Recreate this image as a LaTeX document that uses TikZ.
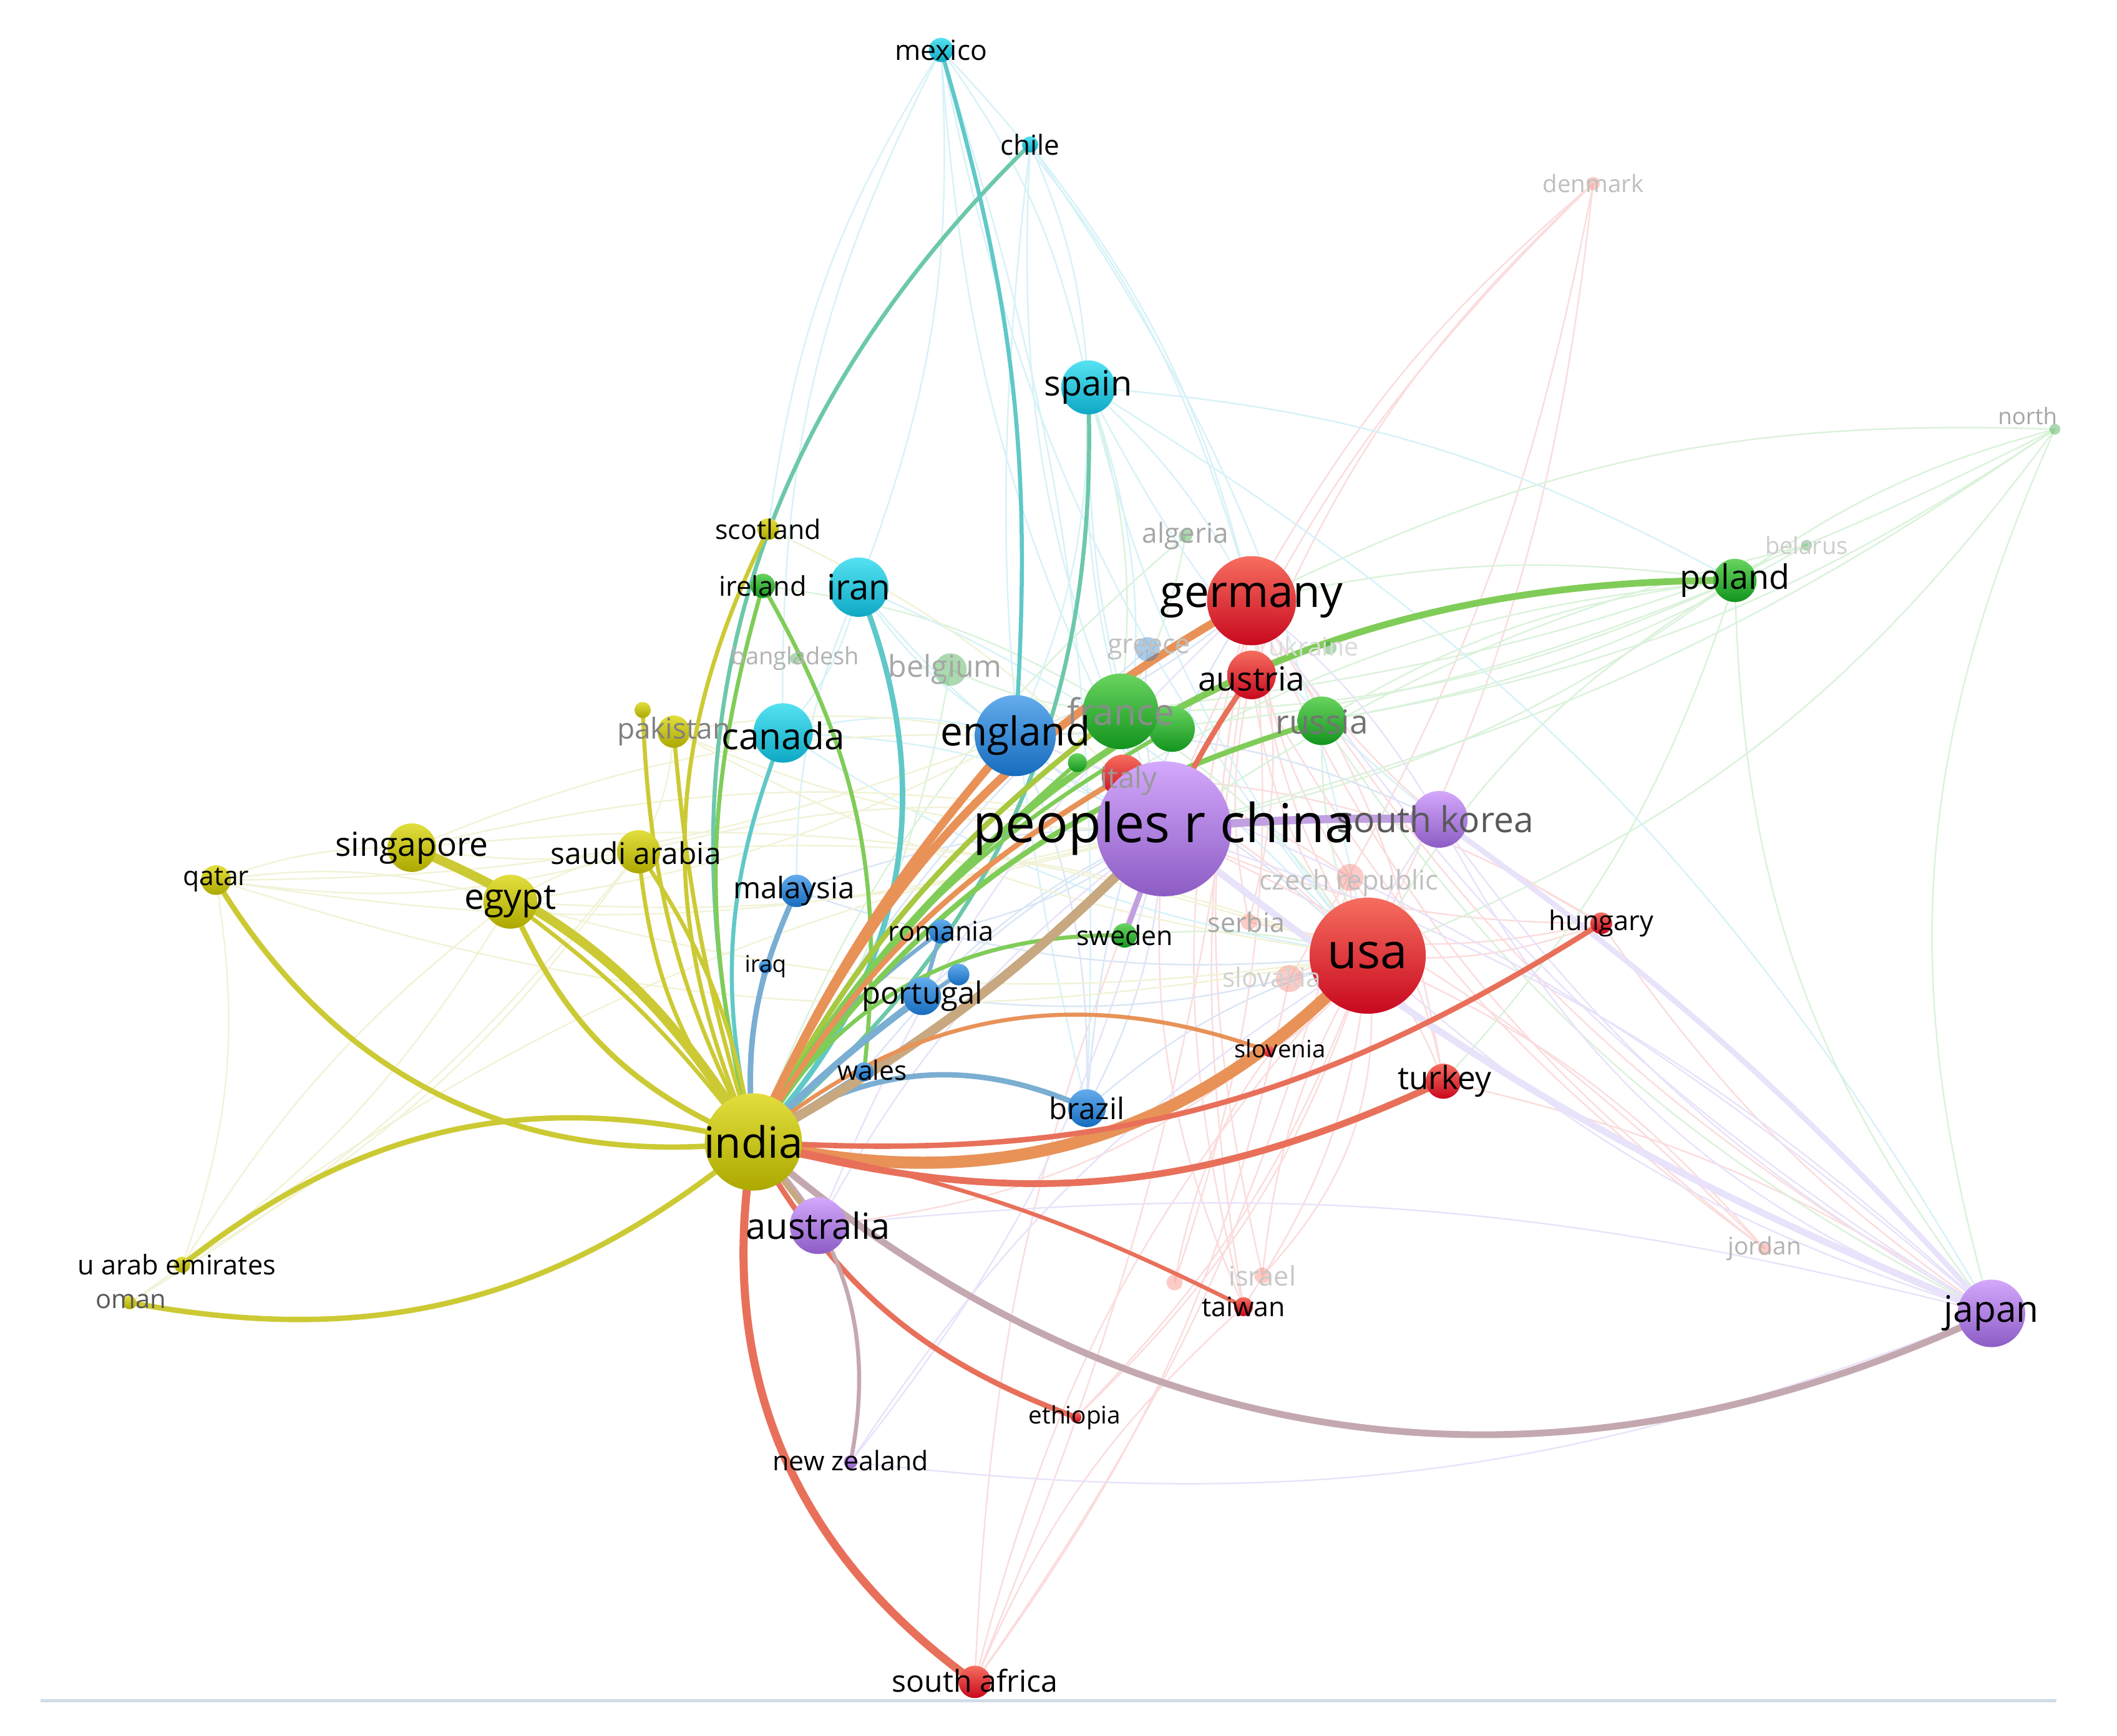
\documentclass[tikz,border=0pt]{standalone}
\usepackage{fontspec}
\setmainfont{Open Sans}
\definecolor{redT}{RGB}{246,110,95}\definecolor{redB}{RGB}{200,8,30}
\definecolor{grnT}{RGB}{105,212,95}\definecolor{grnB}{RGB}{18,148,30}
\definecolor{bluT}{RGB}{100,172,236}\definecolor{bluB}{RGB}{22,108,190}
\definecolor{cyaT}{RGB}{85,226,242}\definecolor{cyaB}{RGB}{14,168,196}
\definecolor{yelT}{RGB}{226,222,62}\definecolor{yelB}{RGB}{172,168,0}
\definecolor{purT}{RGB}{212,168,252}\definecolor{purB}{RGB}{140,92,196}
\definecolor{eY}{RGB}{204,202,52}
\definecolor{eO}{RGB}{232,146,88}
\definecolor{eG}{RGB}{128,204,88}
\definecolor{eT}{RGB}{96,200,200}
\definecolor{eTG}{RGB}{108,200,170}
\definecolor{eB}{RGB}{122,174,210}
\definecolor{eTan}{RGB}{200,168,128}
\definecolor{eR}{RGB}{232,112,90}
\definecolor{eP}{RGB}{192,160,224}
\definecolor{eTP}{RGB}{196,168,176}
\definecolor{eYG}{RGB}{168,200,64}
\definecolor{fR}{RGB}{251,220,220}
\definecolor{fG}{RGB}{218,242,218}
\definecolor{fT}{RGB}{214,242,248}
\definecolor{fB}{RGB}{218,230,246}
\definecolor{fY}{RGB}{242,242,214}
\definecolor{fP}{RGB}{232,226,250}
\definecolor{baseln}{RGB}{208,220,232}
\tikzset{
  nd/.style 2 args={circle, inner sep=0pt, draw=none, minimum size=#1*0.2mm, top color=#2T, bottom color=#2B},
  fd/.style 2 args={circle, inner sep=0pt, draw=none, minimum size=#1*0.2mm, fill=#2, fill opacity=0.35},
  lb/.style={font=\fontsize{#1}{#1}\selectfont, inner sep=0pt, text=black},
  se/.style 2 args={draw=#1, line width=#2*0.569pt, line cap=round},
  fe/.style={draw=#1, line width=1.1*0.569pt},
}
\begin{document}
\begin{tikzpicture}[x=0.2mm,y=0.2mm]
\useasboundingbox (0,0) rectangle (1568,-1286);
\fill[white] (0,0) rectangle (1568,-1286);
% positions
\coordinate (china) at (862,-614);
\coordinate (usa) at (1013,-708);
\coordinate (germany) at (927,-445);
\coordinate (india) at (558,-846);
\coordinate (england) at (752,-545);
\coordinate (france) at (830,-527);
\coordinate (gx) at (868,-540);
\coordinate (austria) at (927,-500);
\coordinate (russia) at (979,-534);
\coordinate (italy) at (832,-575);
\coordinate (gsmall) at (798,-565);
\coordinate (skorea) at (1066,-607);
\coordinate (japan) at (1475,-973);
\coordinate (australia) at (606,-908);
\coordinate (poland) at (1285,-430);
\coordinate (spain) at (806,-287);
\coordinate (iran) at (636,-435);
\coordinate (canada) at (580,-543);
\coordinate (mexico) at (697,-37);
\coordinate (chile) at (763,-107);
\coordinate (scotland) at (569,-392);
\coordinate (ireland) at (565,-434);
\coordinate (pakistan) at (499,-542);
\coordinate (ysmall) at (476,-526);
\coordinate (singapore) at (305,-628);
\coordinate (egypt) at (378,-668);
\coordinate (saudi) at (473,-631);
\coordinate (qatar) at (160,-652);
\coordinate (uae) at (135,-937);
\coordinate (oman) at (96,-965);
\coordinate (malaysia) at (590,-660);
\coordinate (romania) at (697,-690);
\coordinate (iraq) at (567,-716);
\coordinate (portugal) at (683,-738);
\coordinate (bsmall) at (710,-722);
\coordinate (wales) at (640,-794);
\coordinate (brazil) at (805,-821);
\coordinate (sweden) at (833,-693);
\coordinate (slovenia) at (940,-779);
\coordinate (hungary) at (1186,-684);
\coordinate (turkey) at (1069,-801);
\coordinate (taiwan) at (921,-968);
\coordinate (ethiopia) at (797,-1050);
\coordinate (nz) at (630,-1083);
\coordinate (safrica) at (722,-1246);
\coordinate (czech) at (1000,-650);
\coordinate (serbia) at (925,-683);
\coordinate (slovakia) at (955,-725);
\coordinate (israel) at (935,-945);
\coordinate (psmall) at (870,-950);
\coordinate (denmark) at (1180,-136);
\coordinate (jordan) at (1307,-925);
\coordinate (belarus) at (1338,-404);
\coordinate (north) at (1522,-318);
\coordinate (algeria) at (878,-397);
\coordinate (greece) at (850,-481);
\coordinate (belgium) at (704,-496);
\coordinate (bangladesh) at (589,-488);
\coordinate (ukraine) at (985,-480);
\coordinate (bl) at (30,-1260);
\coordinate (br) at (1523,-1260);
% faint background links
\begin{scope}
\clip (0,0) rectangle (1523,-1286);
\foreach \a/\b/\k in {usa/germany/12,usa/italy/-10,usa/austria/15,usa/hungary/-12,usa/turkey/10,usa/taiwan/14,usa/israel/-12,usa/jordan/12,usa/safrica/-14,usa/ethiopia/12,usa/denmark/-10,usa/czech/12,usa/slovakia/-15,germany/denmark/10,germany/hungary/-14,germany/turkey/12,germany/czech/-12,germany/serbia/14,germany/taiwan/-10,austria/denmark/12,austria/jordan/-12,czech/safrica/10,slovakia/safrica/12,taiwan/safrica/-12,ethiopia/usa/-14,turkey/japan/10,hungary/japan/-10,germany/japan/-14,denmark/china/-12,hungary/china/12,denmark/slovakia/10,jordan/china/-10,israel/germany/12,psmall/germany/-12,taiwan/china/14,slovenia/usa/-12,israel/usa/-25,psmall/usa/20,jordan/germany/14,turkey/czech/-14,hungary/serbia/12,australia/usa/-20,safrica/china/10,safrica/germany/-8,taiwan/germany/15,italy/czech/10,austria/serbia/-12,italy/hungary/14}
  \draw[fe=fR] (\a) to[bend left=\k] (\b);
\foreach \a/\b/\k in {poland/north/10,poland/belarus/8,poland/germany/-10,poland/france/12,poland/russia/-12,poland/china/12,north/france/10,north/germany/-14,north/russia/12,north/japan/-20,belarus/russia/10,russia/japan/-14,france/spain/-12,algeria/france/10,belgium/france/-10,ireland/france/12,north/usa/16,poland/usa/-14,poland/turkey/12,poland/japan/-18,belgium/india/12,algeria/india/-14,france/usa/12,russia/usa/-12,sweden/usa/10,belarus/china/-10,poland/england/10,poland/italy/-12,north/china/10}
  \draw[fe=fG] (\a) to[bend left=\k] (\b);
\foreach \a/\b/\k in {mexico/spain/12,mexico/canada/-14,mexico/iran/12,mexico/china/-12,mexico/germany/14,mexico/usa/-14,chile/spain/10,chile/china/-14,chile/usa/12,spain/china/-10,spain/germany/10,spain/usa/-12,spain/poland/12,spain/france/-8,spain/england/12,iran/china/-12,iran/canada/14,iran/england/-12,canada/china/12,canada/usa/-12,canada/england/14,mexico/scotland/-12,chile/germany/12,spain/skorea/-12,spain/japan/14,iran/usa/12,mexico/brazil/10,chile/brazil/-10,spain/italy/14,iran/malaysia/-12}
  \draw[fe=fT] (\a) to[bend left=\k] (\b);
\foreach \a/\b/\k in {england/brazil/12,brazil/china/-12,portugal/china/10,england/china/-10,england/usa/12,greece/india/-10,brazil/usa/12,romania/china/-12,malaysia/china/10,england/germany/-10,wales/china/12,portugal/usa/-12,brazil/germany/14,greece/china/-10,england/skorea/14,malaysia/usa/-12}
  \draw[fe=fB] (\a) to[bend left=\k] (\b);
\foreach \a/\b/\k in {qatar/singapore/10,qatar/china/-12,qatar/egypt/12,qatar/saudi/-12,singapore/china/12,egypt/china/-10,saudi/china/12,pakistan/china/-12,uae/egypt/10,uae/saudi/-12,uae/china/12,oman/saudi/-10,singapore/england/12,egypt/usa/-12,saudi/usa/12,egypt/england/-10,pakistan/saudi/12,qatar/england/-10,qatar/usa/-14,singapore/usa/12,pakistan/england/10,singapore/saudi/-8,egypt/saudi/10,oman/egypt/-12,uae/qatar/-14,scotland/china/12,pakistan/usa/-10}
  \draw[fe=fY] (\a) to[bend left=\k] (\b);
\foreach \a/\b/\k in {japan/china/-12,japan/skorea/12,japan/australia/-10,japan/usa/12,skorea/usa/-12,australia/china/12,nz/china/-12,nz/usa/12,japan/england/-10,japan/germany/12,skorea/germany/-10,australia/germany/12,nz/japan/-14,skorea/japan/-20}
  \draw[fe=fP] (\a) to[bend left=\k] (\b);
\draw[se={fP}{5}] (china) to[bend right=8] (japan);
\draw[se={fP}{4}] (skorea) to[bend left=6] (japan);
\end{scope}
% strong links
\draw[se={eTG}{3}] (india) to[bend left=30] (chile);
\draw[se={eT}{3}] (mexico) to[bend left=10] (england);
\draw[se={eTG}{3}] (spain) to[bend left=26] (india);
\draw[se={eT}{4}] (iran) to[bend left=33] (india);
\draw[se={eT}{3}] (canada) to[bend right=17] (india);
\draw[se={eG}{3}] (ireland) to[bend right=15] (india);
\draw[se={eG}{3}] (ireland) to[bend left=18] (wales);
\draw[se={eY}{3}] (scotland) to[bend right=25] (india);
\draw[se={eY}{3}] (ysmall) to[bend right=12] (india);
\draw[se={eY}{3}] (pakistan) to[bend right=6] (india);
\draw[se={eY}{3}] (saudi) to[bend right=16] (india);
\draw[se={eY}{3}] (saudi) to[bend left=12] (india);
\draw[se={eY}{7}] (singapore) to[bend left=18] (india);
\draw[se={eY}{4}] (egypt) to[bend right=22] (india);
\draw[se={eY}{3}] (egypt) to[bend left=8] (india);
\draw[se={eY}{4}] (qatar) to[bend right=33] (india);
\draw[se={eY}{4}] (uae) to[bend left=26] (india);
\draw[se={eY}{4}] (oman) to[bend right=25] (india);
\draw[se={eB}{4}] (malaysia) to[bend right=15] (india);
\draw[se={eB}{3}] (iraq) to[bend right=10] (india);
\draw[se={eB}{3}] (romania) to (portugal);
\draw[se={eB}{3}] (romania) to[bend right=12] (india);
\draw[se={eB}{5}] (portugal) to[bend right=4] (india);
\draw[se={eB}{3}] (bsmall) to[bend right=6] (india);
\draw[se={eB}{3}] (wales) to (india);
\draw[se={eB}{4}] (india) to[bend left=30] (brazil);
\draw[se={eYG}{4}] (india) to[bend left=12] (france);
\draw[se={eG}{3}] (india) to[bend left=15] (gx);
\draw[se={eG}{3}] (india) to[bend left=8] (gsmall);
\draw[se={eG}{4}] (india) to[bend left=20] (russia);
\draw[se={eG}{3}] (india) to[bend left=30] (sweden);
\draw[se={eG}{5}] (india) to[bend left=30] (poland);
\draw[se={eO}{4}] (india) to[bend left=14] (italy);
\draw[se={eO}{6}] (india) to[bend left=8] (england);
\draw[se={eO}{6}] (india) to[bend left=18] (germany);
\draw[se={eTan}{7}] (india) to[bend right=8] (china);
\draw[se={eO}{9}] (india) to[bend right=30] (usa);
\draw[se={eR}{5}] (india) to[bend right=20] (turkey);
\draw[se={eR}{4}] (india) to[bend right=18] (hungary);
\draw[se={eO}{3}] (india) to[bend left=30] (slovenia);
\draw[se={eR}{3}] (india) to[bend left=8] (taiwan);
\draw[se={eR}{6}] (india) to[bend right=32] (safrica);
\draw[se={eR}{4}] (india) to[bend right=20] (ethiopia);
\draw[se={eTP}{3}] (india) to[bend left=28] (nz);
\draw[se={eTP}{5}] (india) to[bend right=33] (japan);
\draw[se={eTan}{4}] (india) to (australia);
\draw[se={eR}{4}] (austria) to[bend right=5] (china);
\draw[se={eP}{6}] (china) to[bend left=3] (skorea);
\draw[se={eP}{4}] (china) to (sweden);
% faint nodes and labels
\node[fd={10}{grnB}] (ukraine-n) at (ukraine) {};
\node[lb=10.8, text=black!14] (ukraine-l) at (973,-479) {ukraine};
\node[fd={8}{grnB}] (bangladesh-n) at (bangladesh) {};
\node[fd={24}{grnB}] (belgium-n) at (belgium) {};
\node[fd={18}{bluB}] (greece-n) at (greece) {};
\node[fd={10}{grnB}] (algeria-n) at (algeria) {};
\node[fd={20}{redT}] (czech-n) at (czech) {};
\node[fd={12}{redT}] (serbia-n) at (serbia) {};
\node[fd={20}{redT}] (slovakia-n) at (slovakia) {};
\node[fd={12}{redT}] (israel-n) at (israel) {};
\node[fd={12}{redT}] (psmall-n) at (psmall) {};
\node[fd={10}{redT}] (denmark-n) at (denmark) {};
\node[fd={10}{redT}] (jordan-n) at (jordan) {};
\node[fd={8}{grnB}] (belarus-n) at (belarus) {};
\node[fd={8}{grnB}] (north-n) at (north) {};
% main nodes, small first
\node[nd={8}{red}] (slovenia-n) at (slovenia) {};
\node[nd={8}{red}] (ethiopia-n) at (ethiopia) {};
\node[nd={10}{pur}] (nz-n) at (nz) {};
\node[nd={10}{blu}] (iraq-n) at (iraq) {};
\node[nd={10}{yel}] (oman-n) at (oman) {};
\node[nd={12}{yel}] (uae-n) at (uae) {};
\node[nd={12}{cya}] (chile-n) at (chile) {};
\node[nd={12}{yel}] (ysmall-n) at (ysmall) {};
\node[nd={14}{grn}] (gsmall-n) at (gsmall) {};
\node[nd={14}{blu}] (wales-n) at (wales) {};
\node[nd={14}{red}] (taiwan-n) at (taiwan) {};
\node[nd={16}{yel}] (scotland-n) at (scotland) {};
\node[nd={16}{blu}] (bsmall-n) at (bsmall) {};
\node[nd={16}{red}] (hungary-n) at (hungary) {};
\node[nd={18}{cya}] (mexico-n) at (mexico) {};
\node[nd={18}{grn}] (ireland-n) at (ireland) {};
\node[nd={18}{blu}] (romania-n) at (romania) {};
\node[nd={18}{grn}] (sweden-n) at (sweden) {};
\node[nd={22}{yel}] (qatar-n) at (qatar) {};
\node[nd={24}{yel}] (pakistan-n) at (pakistan) {};
\node[nd={24}{blu}] (malaysia-n) at (malaysia) {};
\node[nd={24}{red}] (safrica-n) at (safrica) {};
\node[nd={26}{red}] (turkey-n) at (turkey) {};
\node[nd={28}{blu}] (portugal-n) at (portugal) {};
\node[nd={28}{blu}] (brazil-n) at (brazil) {};
\node[nd={32}{yel}] (saudi-n) at (saudi) {};
\node[nd={32}{grn}] (poland-n) at (poland) {};
\node[nd={32}{red}] (italy-n) at (italy) {};
\node[nd={34}{grn}] (gx-n) at (gx) {};
\node[nd={36}{red}] (austria-n) at (austria) {};
\node[nd={36}{grn}] (russia-n) at (russia) {};
\node[nd={36}{yel}] (singapore-n) at (singapore) {};
\node[nd={40}{cya}] (spain-n) at (spain) {};
\node[nd={40}{yel}] (egypt-n) at (egypt) {};
\node[nd={42}{pur}] (skorea-n) at (skorea) {};
\node[nd={42}{pur}] (australia-n) at (australia) {};
\node[nd={44}{cya}] (iran-n) at (iran) {};
\node[nd={44}{cya}] (canada-n) at (canada) {};
\node[nd={50}{pur}] (japan-n) at (japan) {};
\node[nd={56}{grn}] (france-n) at (france) {};
\node[nd={60}{blu}] (england-n) at (england) {};
\node[nd={66}{red}] (germany-n) at (germany) {};
\node[nd={72}{yel}] (india-n) at (india) {};
\node[nd={86}{red}] (usa-n) at (usa) {};
\node[nd={100}{pur}] (china-n) at (china) {};
% faint labels
\node[lb=10, text=black!30] (bangladesh-l) at (bangladesh) {bangladesh};
\node[lb=12.7, text=black!35] (belgium-l) at (700,-496) {belgium};
\node[lb=11.3, text=black!25] (greece-l) at (851,-481) {greece};
\node[lb=11.6, text=black!35] (algeria-l) at (algeria) {algeria};
\node[lb=11.4, text=black!25] (czech-l) at (999,-654) {czech republic};
\node[lb=11.3, text=black!35] (serbia-l) at (923,-683) {serbia};
\node[lb=11.2, text=black!18] (slovakia-l) at (942,-724) {slovakia};
\node[lb=11.4, text=black!22] (israel-l) at (israel) {israel};
\node[lb=10.2, text=black!30] (jordan-l) at (jordan) {jordan};
\node[lb=10.1, text=black!25] (denmark-l) at (denmark) {denmark};
\node[lb=10, text=black!20] (belarus-l) at (belarus) {belarus};
\node[lb=9.6, text=black!35, anchor=east] (north-l) at (1524,-308) {north};
% labels
\node[lb=11.7] (mexico-l) at (mexico) {mexico};
\node[lb=11.6] (chile-l) at (chile) {chile};
\node[lb=14.7] (spain-l) at (spain) {spain};
\node[lb=11.3] (scotland-l) at (scotland) {scotland};
\node[lb=11.4] (ireland-l) at (ireland) {ireland};
\node[lb=14.8] (iran-l) at (iran) {iran};
\node[lb=12.1, text=black!50] (pakistan-l) at (pakistan) {pakistan};
\node[lb=15.4] (canada-l) at (580,-545) {canada};
\node[lb=14] (singapore-l) at (singapore) {singapore};
\node[lb=15] (egypt-l) at (egypt) {egypt};
\node[lb=12.6] (saudi-l) at (471,-632) {saudi arabia};
\node[lb=11.2] (qatar-l) at (qatar) {qatar};
\node[lb=11.4] (uae-l) at (131,-937) {u arab emirates};
\node[lb=11, text=black!65] (oman-l) at (97,-964) {oman};
\node[lb=12.5] (malaysia-l) at (588,-660) {malaysia};
\node[lb=11.4] (romania-l) at (romania) {romania};
\node[lb=9.7] (iraq-l) at (iraq) {iraq};
\node[lb=12.9] (portugal-l) at (portugal) {portugal};
\node[lb=11.2] (wales-l) at (646,-793) {wales};
\node[lb=12.5] (brazil-l) at (brazil) {brazil};
\node[lb=11.3] (sweden-l) at (sweden) {sweden};
\node[lb=10.1] (slovenia-l) at (948,-777) {slovenia};
\node[lb=11.4] (hungary-l) at (hungary) {hungary};
\node[lb=13.5] (turkey-l) at (1070,-801) {turkey};
\node[lb=11.3] (taiwan-l) at (taiwan) {taiwan};
\node[lb=10.2] (ethiopia-l) at (796,-1050) {ethiopia};
\node[lb=11.3] (nz-l) at (630,-1082) {new zealand};
\node[lb=12.7] (safrica-l) at (722,-1245) {south africa};
\node[lb=15.2] (australia-l) at (australia) {australia};
\node[lb=15.4] (japan-l) at (japan) {japan};
\node[lb=14.2] (poland-l) at (poland) {poland};
\node[lb=14, text=black!55] (russia-l) at (979,-535) {russia};
\node[lb=14] (austria-l) at (927,-503) {austria};
\node[lb=15.4, text=black!45] (france-l) at (france) {france};
\node[lb=12.5, text=black!40] (italy-l) at (836,-578) {italy};
\node[lb=15, text=black!65] (skorea-l) at (1063,-607) {south korea};
\node[lb=16.8] (england-l) at (england) {england};
\node[lb=18.7] (germany-l) at (germany) {germany};
\node[lb=18.2] (india-l) at (india) {india};
\node[lb=20.5] (usa-l) at (usa) {usa};
\node[lb=22.6] (china-l) at (china) {peoples r china};
% base line
\draw[draw=baseln, line width=2*0.569pt] (bl) -- (br);
\end{tikzpicture}
\end{document}
